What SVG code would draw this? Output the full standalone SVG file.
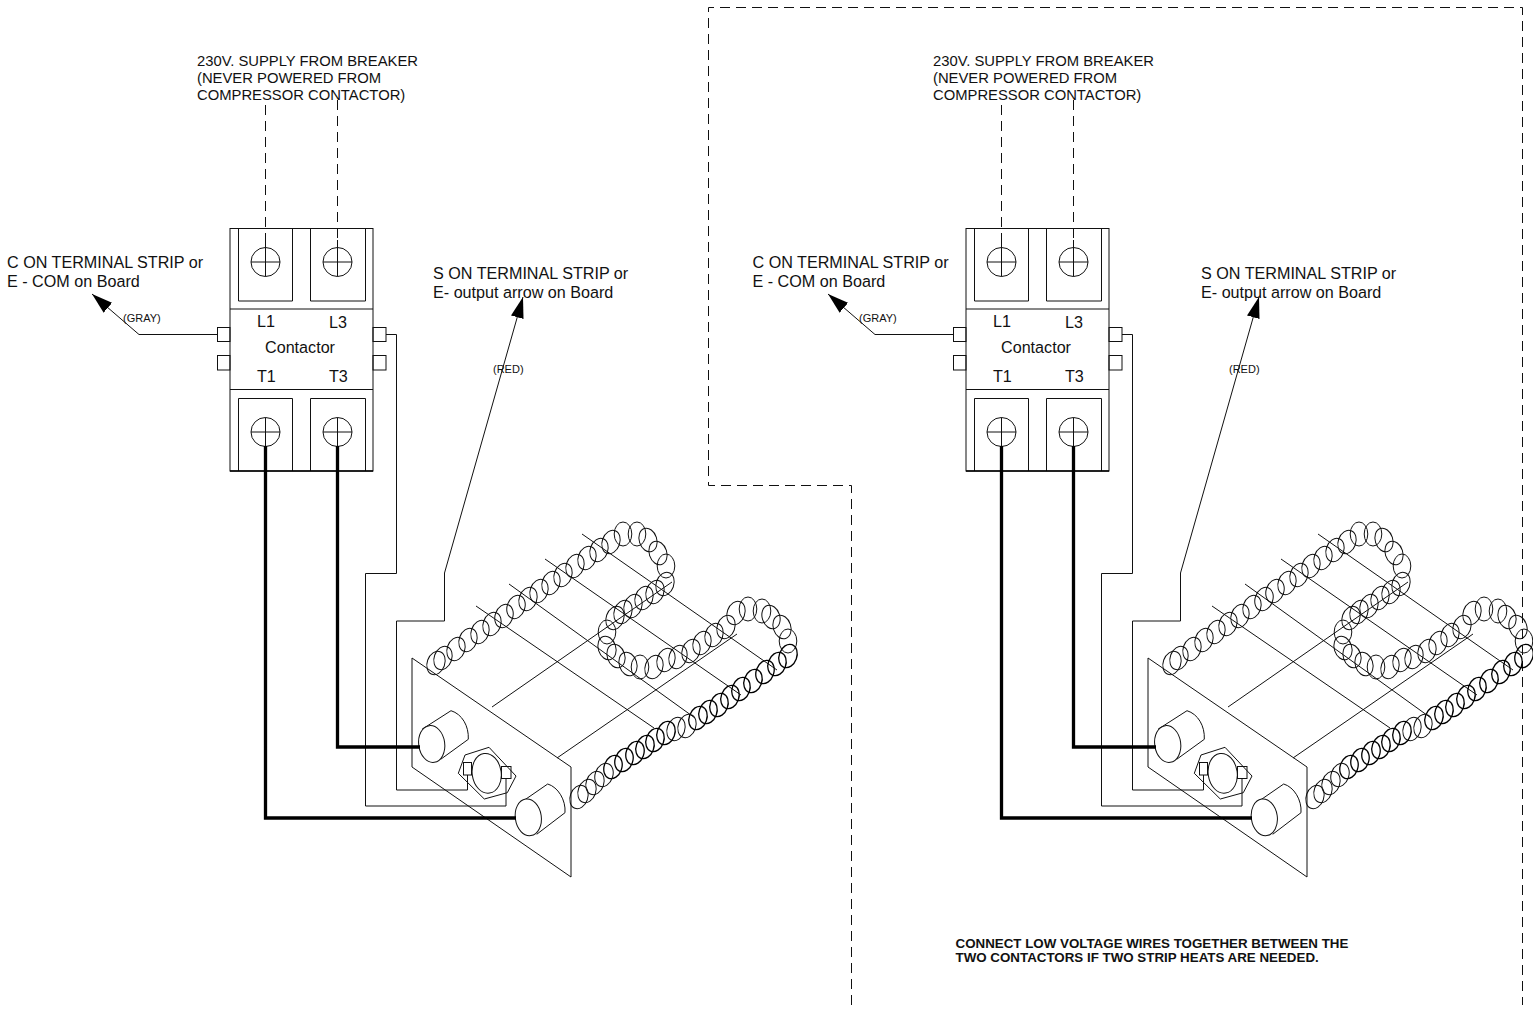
<svg xmlns="http://www.w3.org/2000/svg" width="1533" height="1010" viewBox="0 0 1533 1010">
<style>
text{font-family:"Liberation Sans",Arial,sans-serif;fill:#111}
.l{fill:none;stroke:#111;stroke-width:1}
.w{fill:#fff;stroke:#111;stroke-width:1}
.t{fill:none;stroke:#000;stroke-width:3.3}
.d{fill:none;stroke:#111;stroke-width:1;stroke-dasharray:10 6}
.f16{font-size:16.150px}.f14{font-size:14.800px}.f9{font-size:11px}
.b{font-size:13.350px;font-weight:bold}
ellipse.a,ellipse.b,ellipse.c{fill:none;stroke:#111;stroke-width:1;rx:8.800px;ry:12px;transform-box:fill-box;transform-origin:center}
ellipse.a{transform:rotate(20deg)}
ellipse.c{transform:rotate(-18deg)}
ellipse.k{stroke-width:1.300px;stroke:#000}
</style>
<defs>
<marker id="arrow" markerUnits="userSpaceOnUse" markerWidth="22" markerHeight="14" refX="21" refY="7" orient="auto"><path d="M0 0.500L21 7L0 13.500Z" fill="#000"/></marker>
<g id="contactor">
<rect class="w" x="217.500" y="327.500" width="12.500" height="14"/><rect class="w" x="217.500" y="355.500" width="12.500" height="14.500"/>
<rect class="w" x="373" y="327.500" width="13" height="14"/><rect class="w" x="373" y="355.500" width="13" height="14.500"/>
<rect class="l" x="230" y="228.500" width="143" height="242.500"/>
<path class="l" d="M230 309H373M230 389.500H373"/>
<path class="l" d="M238.500 228V301H292.500V228M310.500 228V301H365.500V228M238.500 471V398.500H292.500V471M310.500 471V398.500H365.500V471"/>
<path d="M230 471H373" stroke="#000" stroke-width="1.500" fill="none"/>
<circle class="l" cx="265.500" cy="262" r="14.500"/><circle class="l" cx="337.500" cy="262" r="14.500"/><circle class="l" cx="265.500" cy="432" r="14.500"/><circle class="l" cx="337.500" cy="432" r="14.500"/>
<path class="l" d="M251 262H280M323 262H352M251 432H280M323 432H352M265.500 417.500V446M337.500 417.500V446M265.500 240V276.500M337.500 240V276.500"/>
<text class="f16" x="257" y="327">L1</text><text class="f16" x="329" y="328">L3</text><text class="f16" x="265" y="353">Contactor</text><text class="f16" x="257" y="382">T1</text><text class="f16" x="329" y="382">T3</text>
</g>
<g id="heater">
<path class="l" d="M412 658V767L571 877V767L412 658"/>
<path class="l" d="M582 534L777 670M545 559L741 695M509 584L695 718M476 606L654 728M492 707L672 582M557 758L737 634"/>
<ellipse class="a" cx="436" cy="663"/><ellipse class="a" cx="443" cy="658"/><ellipse class="a" cx="456" cy="649"/><ellipse class="a" cx="468" cy="640"/><ellipse class="a" cx="480" cy="632"/><ellipse class="a" cx="492" cy="624"/><ellipse class="a" cx="504" cy="616"/><ellipse class="a" cx="516" cy="607"/><ellipse class="a" cx="528" cy="599"/><ellipse class="a" cx="539" cy="591"/><ellipse class="a" cx="551" cy="583"/><ellipse class="a" cx="563" cy="575"/><ellipse class="a" cx="575" cy="566"/><ellipse class="a" cx="587" cy="558"/><ellipse class="a" cx="599" cy="550"/><ellipse class="a" cx="611" cy="542"/><ellipse class="b" cx="623" cy="534"/><ellipse class="b" cx="637" cy="534"/><ellipse class="c" cx="648" cy="540"/><ellipse class="c" cx="658" cy="553"/><ellipse class="b" cx="666" cy="566"/><ellipse class="a" cx="665" cy="584"/><ellipse class="a" cx="655" cy="592"/><ellipse class="a" cx="644" cy="598"/><ellipse class="a" cx="633" cy="606"/><ellipse class="a" cx="623" cy="612"/><ellipse class="a" cx="615" cy="618"/><ellipse class="b" cx="607" cy="632"/><ellipse class="c" cx="607" cy="648"/><ellipse class="c" cx="616" cy="656"/><ellipse class="c" cx="628" cy="664"/><ellipse class="b" cx="640" cy="667"/><ellipse class="a" cx="654" cy="667"/><ellipse class="a" cx="666" cy="660"/><ellipse class="a" cx="678" cy="657"/><ellipse class="a" cx="691" cy="651"/><ellipse class="a" cx="702" cy="643"/><ellipse class="a" cx="714" cy="635"/><ellipse class="a" cx="726" cy="627"/><ellipse class="a" cx="736" cy="613"/><ellipse class="b" cx="748" cy="609"/><ellipse class="b" cx="762" cy="611"/><ellipse class="c" cx="771" cy="617"/><ellipse class="c" cx="782" cy="627"/><ellipse class="b" cx="788" cy="641"/><ellipse class="a k" cx="788" cy="656"/><ellipse class="a k" cx="777" cy="664"/><ellipse class="a k" cx="765" cy="672"/><ellipse class="a k" cx="753" cy="681"/><ellipse class="a k" cx="741" cy="689"/><ellipse class="a k" cx="730" cy="697"/><ellipse class="a k" cx="719" cy="705"/><ellipse class="a k" cx="708" cy="712"/><ellipse class="a k" cx="698" cy="718"/><ellipse class="a" cx="687" cy="726"/><ellipse class="a" cx="676" cy="729"/><ellipse class="a k" cx="666" cy="733"/><ellipse class="a k" cx="655" cy="740"/><ellipse class="a k" cx="645" cy="747"/><ellipse class="a k" cx="635" cy="753"/><ellipse class="a k" cx="624" cy="760"/><ellipse class="a k" cx="613" cy="767"/><ellipse class="a" cx="604" cy="775"/><ellipse class="a" cx="595" cy="783"/><ellipse class="a" cx="587" cy="791"/><ellipse class="a" cx="579" cy="797"/>
<path class="l" d="M422 729.300L451 710.700C462 714 469 726 468.300 739.300L440.700 759.300"/>
<ellipse class="w" cx="431.700" cy="744" rx="13" ry="18.500" transform="rotate(-8 431.700 744)"/>
<path class="l" d="M518.300 804.300L547.700 784C558 787 566 800 565 812.700L536.700 834.300"/>
<ellipse class="w" cx="528.300" cy="817.300" rx="13" ry="18.500" transform="rotate(-8 528.300 817.300)"/>
<path class="l" d="M465 755L489 747.300L516 776L507.300 792.700L484.300 799L458.300 773.300Z"/>
<ellipse class="l" cx="486.700" cy="773.300" rx="14.500" ry="20" transform="rotate(-8 486.700 773.300)"/>
<rect class="l" x="463.500" y="762.500" width="8" height="12.500"/><rect class="l" x="501.500" y="766.500" width="9.500" height="12"/>
</g>
</defs>

<g id="frame"><path class="d" d="M851.500 1005V485.500H708.500V7.500H1522.500V1005"/></g>

<g id="contactor-left"><use href="#contactor"/></g>
<g id="contactor-right"><use href="#contactor" x="736"/></g>
<g id="heater-left"><use href="#heater"/></g>
<g id="heater-right"><use href="#heater" x="736"/></g>

<g id="connectors">
<path class="d" d="M265.500 105V240M337.500 100V240M1001.500 105V240M1073.500 100V240"/>
<path class="l" d="M217 334.500H139L92 294" marker-end="url(#arrow)"/>
<path class="l" d="M953 334.500H875L828 294" marker-end="url(#arrow)"/>
<path class="l" d="M386 334.500H396.500V573.500H365.500V806H506V778"/>
<path class="l" d="M1122 334.500H1132.500V573.500H1101.500V806H1242V778"/>
<path class="l" d="M467.500 775V790H396.500V621H444.500V573L523 297" marker-end="url(#arrow)"/>
<path class="l" d="M1203.500 775V790H1132.500V621H1180.500V573L1259 297" marker-end="url(#arrow)"/>
<path class="t" d="M265.500 446V818H516M337.500 446V747H420"/>
<path class="t" d="M1001.500 446V818H1252M1073.500 446V747H1156"/>
</g>

<g id="labels-left">
<text class="f14" x="197" y="66">230V. SUPPLY FROM BREAKER</text>
<text class="f14" x="197" y="83">(NEVER POWERED FROM</text>
<text class="f14" x="197" y="100">COMPRESSOR CONTACTOR)</text>
<text class="f16" x="7" y="268">C ON TERMINAL STRIP or</text>
<text class="f16" x="7" y="287">E - COM on Board</text>
<text class="f16" x="433" y="279">S ON TERMINAL STRIP or</text>
<text class="f16" x="433" y="298">E- output arrow on Board</text>
<text class="f9" x="123" y="322">(GRAY)</text>
<text class="f9" x="493" y="373">(RED)</text>
</g>
<g id="labels-right">
<text class="f14" x="933" y="66">230V. SUPPLY FROM BREAKER</text>
<text class="f14" x="933" y="83">(NEVER POWERED FROM</text>
<text class="f14" x="933" y="100">COMPRESSOR CONTACTOR)</text>
<text class="f16" x="752.500" y="268">C ON TERMINAL STRIP or</text>
<text class="f16" x="752.500" y="287">E - COM on Board</text>
<text class="f16" x="1201" y="279">S ON TERMINAL STRIP or</text>
<text class="f16" x="1201" y="298">E- output arrow on Board</text>
<text class="f9" x="859" y="322">(GRAY)</text>
<text class="f9" x="1229" y="373">(RED)</text>
<text class="b" x="955.500" y="948">CONNECT LOW VOLTAGE WIRES TOGETHER BETWEEN THE</text>
<text class="b" x="955.500" y="962">TWO CONTACTORS IF TWO STRIP HEATS ARE NEEDED.</text>
</g>
</svg>
